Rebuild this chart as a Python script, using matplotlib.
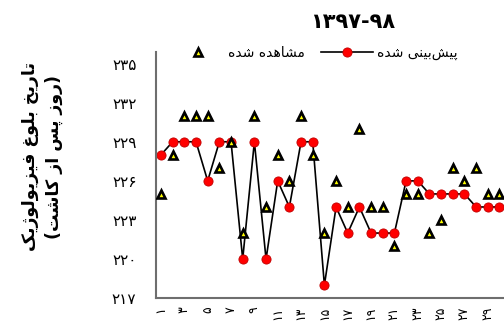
import matplotlib
matplotlib.use('Agg')
import matplotlib.pyplot as plt

# data
samples = list(range(1, 31))
predicted = [228, 229, 229, 229, 226, 229, 229, 220, 229, 220,
             226, 224, 229, 229, 218, 224, 222, 224, 222, 222,
             222, 226, 226, 225, 225, 225, 225, 224, 224, 224]
observed = [225, 228, 231, 231, 231, 227, 229, 222, 231, 224,
            228, 226, 231, 228, 222, 226, 224, 230, 224, 224,
            221, 225, 225, 222, 223, 227, 226, 227, 225, 225]
xticks = list(range(1, 30, 2))
yticks = [217, 220, 223, 226, 229, 232, 235]

title = '1397-98'
ylabel_1 = 'تاریخ بلوغ فیزیولوژیک'
ylabel_2 = '(روز پس از کاشت)'
label_pred = 'پیش\u200cبینی شده'
label_obs = 'مشاهده شده'

# matplotlib has no arabic shaping, so do it by hand with presentation forms
# (isolated, final, initial, medial); two entries = right-joining only
FORMS = {
    'ا': '\uFE8D\uFE8E', 'د': '\uFEA9\uFEAA', 'ر': '\uFEAD\uFEAE',
    'ز': '\uFEAF\uFEB0', 'ژ': '\uFB8A\uFB8B', 'و': '\uFEED\uFEEE',
    'ب': '\uFE8F\uFE90\uFE91\uFE92', 'ت': '\uFE95\uFE96\uFE97\uFE98',
    'خ': '\uFEA5\uFEA6\uFEA7\uFEA8', 'س': '\uFEB1\uFEB2\uFEB3\uFEB4',
    'ش': '\uFEB5\uFEB6\uFEB7\uFEB8', 'غ': '\uFECD\uFECE\uFECF\uFED0',
    'ف': '\uFED1\uFED2\uFED3\uFED4', 'ل': '\uFEDD\uFEDE\uFEDF\uFEE0',
    'م': '\uFEE1\uFEE2\uFEE3\uFEE4', 'ن': '\uFEE5\uFEE6\uFEE7\uFEE8',
    'ه': '\uFEE9\uFEEA\uFEEB\uFEEC', 'ی': '\uFBFC\uFBFD\uFBFE\uFBFF',
    'پ': '\uFB56\uFB57\uFB58\uFB59', 'ک': '\uFB8E\uFB8F\uFB90\uFB91',
}


def shape(s):
    out = []
    for i, c in enumerate(s):
        if c not in FORMS:
            out.append(c)
            continue
        prev = s[i - 1] if i > 0 else ''
        nxt = s[i + 1] if i + 1 < len(s) else ''
        jp = prev in FORMS and len(FORMS[prev]) == 4
        jn = len(FORMS[c]) == 4 and nxt in FORMS
        f = FORMS[c]
        if jp and jn:
            out.append(f[3])
        elif jp:
            out.append(f[1])
        elif jn:
            out.append(f[2])
        else:
            out.append(f[0])
    res = ''.join(out).replace('\u200c', '')[::-1]
    return res.translate(str.maketrans('()', ')('))


def fa_num(s):
    return str(s).translate(str.maketrans('0123456789', '۰۱۲۳۴۵۶۷۸۹'))


plt.rcParams['font.family'] = ['DejaVu Sans']

fig = plt.figure(figsize=(5.04, 3.34), dpi=100)
ax = fig.add_axes([0.3095, 0.107, 0.6905, 0.738])

ax.plot(samples, predicted, color='black', linewidth=1.2, marker='o',
        markersize=6.6, markerfacecolor='red', markeredgecolor='#c00000',
        markeredgewidth=0.6, label=shape(label_pred), zorder=2)
ax.plot(samples, observed, linestyle='none', marker='^', markersize=6,
        markerfacecolor='yellow', markeredgecolor='black',
        markeredgewidth=1.9, label=shape(label_obs), zorder=3)

ax.set_xlim(0.57, 30.39)
ax.set_ylim(217, 235.9)
ax.set_yticks(yticks)
ax.set_yticklabels([fa_num(v) for v in yticks], fontsize=11)
ax.set_xticks(xticks)
ax.set_xticklabels([fa_num(v) for v in xticks], fontsize=9, rotation=90)
ax.tick_params(axis='y', length=0, pad=14)
ax.tick_params(axis='x', length=0, pad=6)

for side in ['top', 'right']:
    ax.spines[side].set_visible(False)
for side in ['left', 'bottom']:
    ax.spines[side].set_color('#6e6e6e')
    ax.spines[side].set_linewidth(1.5)

h, l = ax.get_legend_handles_labels()
fig.legend([h[1], h[0]], [l[1], l[0]], ncol=2, loc='center',
           bbox_to_anchor=(0.625, 0.841), frameon=False, fontsize=10,
           handlelength=3.7, columnspacing=1.2, handletextpad=0.3)

fig.text(0.70, 0.935, fa_num(title), ha='center', va='center',
         fontsize=15, fontweight='bold')
fig.text(0.083, 0.53, shape(ylabel_1) + '\n' + shape(ylabel_2),
         rotation=90, ha='center', va='center', multialignment='center',
         fontsize=12.5, fontweight='bold', linespacing=1.45)

fig.savefig('out.png', dpi=100)
